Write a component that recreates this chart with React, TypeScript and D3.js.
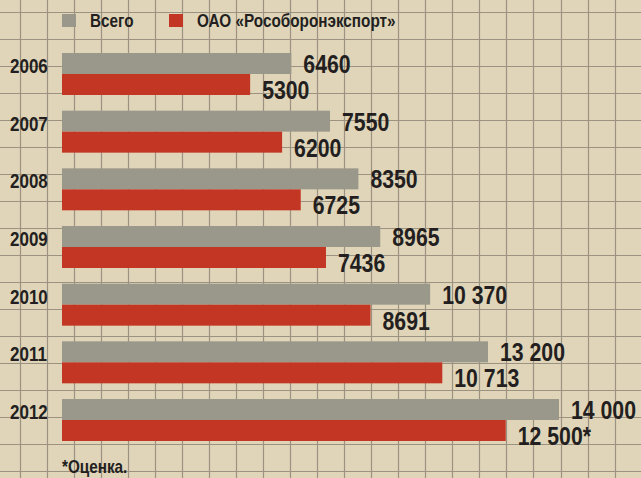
import React from "react";
import * as d3 from "d3";

const years = ["2006", "2007", "2008", "2009", "2010", "2011", "2012"];
// bar lengths as drawn in the reference picture
const totalValues = [6460, 7550, 8350, 8965, 10370, 12000, 14000];
const rosoboronValues = [5300, 6200, 6725, 7436, 8691, 10713, 12500];
const totalLabels = ["6460", "7550", "8350", "8965", "10 370", "13 200", "14 000"];
const rosoboronLabels = ["5300", "6200", "6725", "7436", "8691", "10 713", "12 500*"];
const legendLabels = ["Всего", "ОАО «Рособоронэкспорт»"];
const footnote = "*Оценка.";

const W = 641;
const H = 478;
const BG = "#e0d5b9";
const GRID = "#9c9282";
const GREY = "#9a988a";
const RED = "#c33624";
const TEXT = "#231f20";
const FONT = "'Liberation Sans', Arial, sans-serif";
const SX = 0.85;

function T({ x, y, size, children }: { x: number; y: number; size: number; children: React.ReactNode }) {
  return (
    <text
      transform={`translate(${x},${y}) scale(${SX},1)`}
      fontSize={size}
      fontWeight="bold"
      fill={TEXT}
      fontFamily={FONT}
    >
      {children}
    </text>
  );
}

export default function App() {
  const x = d3.scaleLinear().domain([0, 14000]).range([62, 559]);
  const y = d3.scaleBand<string>().domain(years).range([53, 441]).paddingInner(0.272).paddingOuter(0);
  const bw = y.bandwidth();
  const half = bw / 2;

  const vLines = d3.range(0, 24).map((k) => 19.5 + k * 27.05);
  const hLines = d3.range(0, 18).map((k) => 11.5 + k * 27);

  return (
    <svg width={W} height={H} style={{ position: "absolute", left: 0, top: 0 }}>
      <rect x={0} y={0} width={W} height={H} fill={BG} />
      <g stroke={GRID} strokeWidth={1.2}>
        {vLines.map((vx, i) => (
          <line key={"v" + i} x1={Math.round(vx) + 0.5} x2={Math.round(vx) + 0.5} y1={0} y2={H} />
        ))}
        {hLines.map((hy, i) => (
          <line key={"h" + i} x1={0} x2={W} y1={Math.round(hy) + 0.5} y2={Math.round(hy) + 0.5} />
        ))}
      </g>

      {/* legend */}
      <rect x={62} y={14} width={14} height={13} fill={GREY} />
      <T x={90} y={27} size={18}>{legendLabels[0]}</T>
      <rect x={169} y={14} width={14} height={13} fill={RED} />
      <T x={197} y={27} size={18}>{legendLabels[1]}</T>

      {years.map((yr, i) => {
        const y0 = y(yr)!;
        return (
          <g key={yr}>
            <T x={10} y={y0 + 20} size={20}>{yr}</T>
            <rect x={x(0)} y={y0} width={x(totalValues[i]) - x(0)} height={half} fill={GREY} />
            <rect x={x(0)} y={y0 + half} width={x(rosoboronValues[i]) - x(0)} height={half} fill={RED} />
            <T x={x(totalValues[i]) + 12} y={y0 + half - 1} size={25}>{totalLabels[i]}</T>
            <T x={x(rosoboronValues[i]) + 12} y={y0 + bw + 4} size={25}>{rosoboronLabels[i]}</T>
          </g>
        );
      })}

      <T x={62} y={473} size={18}>{footnote}</T>
    </svg>
  );
}
